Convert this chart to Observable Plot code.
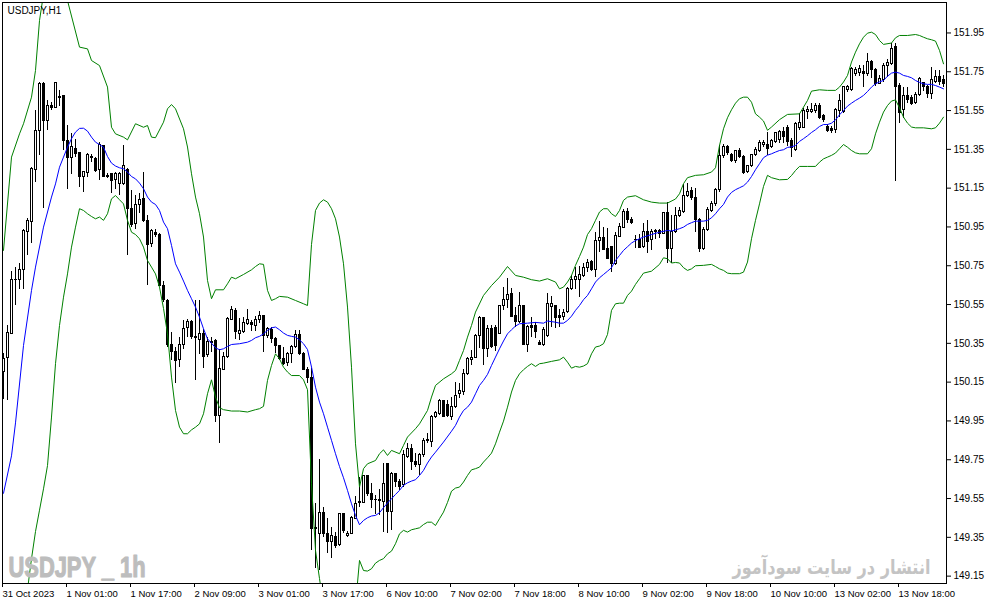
<!DOCTYPE html>
<html>
<head>
<meta charset="utf-8">
<script src="https://cdn.jsdelivr.net/npm/d3@7"></script>
<script src="https://cdn.jsdelivr.net/npm/@observablehq/plot@0.6"></script>
<style>
  body { margin: 0; background: white; }
  #chart svg { display: block; }
</style>
</head>
<body>
<div id="chart"></div>
<script>
// velas H1, una por barra (indice 0..235)
const open = [
  150.200,150.275,150.400,150.678,150.674,150.729,150.923,150.975,151.241,151.447,
  151.688,151.495,151.571,151.564,151.619,151.623,151.392,151.306,151.353,151.331,
  151.207,151.228,151.313,151.301,151.241,151.367,151.212,151.221,151.190,151.172,
  151.172,151.241,151.044,150.963,151.061,151.092,150.980,150.860,150.918,150.906,
  150.648,150.568,150.339,150.305,150.265,150.344,150.430,150.459,150.382,150.368,
  150.396,150.288,150.356,150.361,149.973,150.214,150.279,150.471,150.519,150.399,
  150.408,150.451,150.454,150.437,150.468,150.489,150.386,150.420,150.374,150.334,
  150.270,150.248,150.293,150.331,150.391,150.296,150.214,150.173,149.394,149.368,
  149.475,149.368,149.325,149.351,149.308,149.468,149.355,149.368,149.446,149.528,
  149.526,149.664,149.575,149.544,149.540,149.532,149.726,149.480,149.674,149.635,
  149.618,149.764,149.807,149.738,149.721,149.772,149.846,149.841,149.970,149.987,
  150.052,150.030,149.970,150.021,150.087,150.099,150.190,150.262,150.276,150.386,
  150.482,150.322,150.425,150.430,150.399,150.540,150.571,150.602,150.489,150.460,
  150.540,150.344,150.437,150.437,150.351,150.339,150.386,150.537,150.540,150.489,
  150.485,150.511,150.631,150.674,150.674,150.695,150.740,150.769,150.729,150.880,
  150.894,150.837,150.846,150.760,150.898,150.946,151.027,150.987,150.884,150.884,
  150.846,150.923,150.881,150.929,150.929,150.915,151.023,150.838,150.923,151.009,
  151.027,151.107,151.135,151.100,150.987,150.838,150.935,151.032,151.066,151.142,
  151.314,151.362,151.319,151.289,151.339,151.310,151.233,151.262,151.319,151.341,
  151.370,151.370,151.362,151.387,151.396,151.439,151.461,151.392,151.348,151.461,
  151.461,151.544,151.542,151.547,151.576,151.521,151.465,151.456,151.451,151.547,
  151.542,151.657,151.657,151.740,151.743,151.748,151.740,151.800,151.760,151.688,
  151.709,151.782,151.788,151.877,151.679,151.554,151.623,151.616,151.588,151.628,
  151.691,151.671,151.636,151.697,151.722,151.705
]
const high = [
  150.300,150.442,150.722,150.743,150.760,150.935,150.992,151.258,151.550,151.695,
  151.695,151.602,151.593,151.696,151.653,151.628,151.473,151.434,151.399,151.336,
  151.238,151.327,151.324,151.310,151.387,151.370,151.224,151.227,151.233,151.233,
  151.370,151.250,151.138,151.112,151.121,151.233,151.009,150.935,150.935,150.915,
  150.671,150.575,150.408,150.331,150.382,150.468,150.471,150.468,150.571,150.571,
  150.420,150.379,150.379,150.368,150.317,150.305,150.485,150.540,150.528,150.477,
  150.485,150.523,150.468,150.489,150.516,150.494,150.434,150.430,150.382,150.339,
  150.331,150.305,150.339,150.417,150.417,150.305,150.224,150.219,149.523,149.750,
  149.506,149.446,149.403,149.377,149.475,149.475,149.382,149.458,149.561,149.657,
  149.669,149.669,149.626,149.566,149.595,149.729,149.729,149.686,149.678,149.647,
  149.798,149.832,149.829,149.781,149.781,149.858,149.887,149.978,150.001,150.059,
  150.056,150.056,150.073,150.150,150.142,150.214,150.276,150.313,150.396,150.489,
  150.485,150.442,150.442,150.442,150.545,150.636,150.683,150.631,150.537,150.614,
  150.545,150.442,150.485,150.460,150.365,150.434,150.609,150.592,150.545,150.523,
  150.523,150.640,150.700,150.740,150.746,150.764,150.781,150.777,150.923,150.980,
  150.949,150.941,150.850,150.923,150.970,151.039,151.044,150.997,150.906,150.911,
  150.966,150.984,150.935,150.939,150.935,151.027,151.078,151.009,151.052,151.049,
  151.169,151.173,151.152,151.147,150.992,150.949,151.052,151.083,151.147,151.370,
  151.375,151.370,151.327,151.344,151.353,151.319,151.267,151.324,151.362,151.396,
  151.396,151.439,151.399,151.439,151.448,151.465,151.473,151.404,151.490,151.533,
  151.559,151.571,151.585,151.585,151.585,151.530,151.478,151.468,151.559,151.633,
  151.674,151.679,151.774,151.774,151.782,151.782,151.843,151.808,151.765,151.731,
  151.791,151.812,151.894,151.898,151.688,151.671,151.671,151.628,151.645,151.719,
  151.697,151.679,151.774,151.757,151.757,151.731
]
const low = [
  150.060,150.055,150.400,150.545,150.626,150.626,150.803,150.867,151.181,151.319,
  151.044,151.447,151.550,151.564,151.571,151.344,151.141,151.221,151.310,151.152,
  151.130,151.207,151.284,151.233,151.190,151.203,151.198,151.121,151.141,151.112,
  151.164,150.803,150.949,150.935,151.018,150.975,150.648,150.843,150.894,150.643,
  150.562,150.331,150.262,150.142,150.224,150.317,150.379,150.368,150.159,150.293,
  150.219,150.279,150.305,149.944,149.836,150.210,150.270,150.468,150.368,150.365,
  150.399,150.442,150.413,150.413,150.451,150.305,150.374,150.348,150.296,150.262,
  150.236,150.231,150.248,150.322,150.288,150.210,150.142,149.282,149.188,149.179,
  149.351,149.265,149.239,149.291,149.303,149.368,149.351,149.365,149.441,149.506,
  149.523,149.561,149.497,149.468,149.463,149.377,149.372,149.386,149.609,149.592,
  149.609,149.755,149.692,149.709,149.669,149.764,149.832,149.815,149.961,149.978,
  149.966,149.970,149.952,150.013,150.064,150.081,150.185,150.236,150.270,150.322,
  150.236,150.279,150.322,150.310,150.396,150.520,150.528,150.482,150.434,150.451,
  150.339,150.305,150.382,150.374,150.337,150.334,150.382,150.434,150.425,150.434,
  150.468,150.506,150.623,150.626,150.588,150.691,150.717,150.722,150.691,150.820,
  150.829,150.781,150.717,150.752,150.894,150.941,150.966,150.963,150.838,150.838,
  150.838,150.812,150.829,150.884,150.889,150.911,150.760,150.760,150.915,151.001,
  151.018,151.100,151.087,150.923,150.820,150.829,150.929,151.027,151.056,151.130,
  151.302,151.319,151.284,151.276,151.302,151.221,151.224,151.255,151.314,151.336,
  151.362,151.319,151.353,151.379,151.382,151.379,151.365,151.310,151.341,151.447,
  151.456,151.502,151.533,151.537,151.502,151.490,151.439,151.430,151.430,151.516,
  151.537,151.645,151.650,151.726,151.726,151.671,151.726,151.714,151.674,151.685,
  151.697,151.722,151.782,151.186,151.482,151.508,151.585,151.576,151.581,151.623,
  151.650,151.611,151.606,151.688,151.679,151.671
]
const close = [
  150.270,150.403,150.678,150.674,150.729,150.927,150.980,151.250,151.447,151.688,
  151.495,151.576,151.564,151.693,151.616,151.392,151.306,151.361,151.327,151.207,
  151.233,151.319,151.306,151.238,151.370,151.207,151.209,151.186,151.221,151.224,
  151.262,151.044,150.958,151.061,151.090,150.980,150.855,150.927,150.911,150.648,
  150.571,150.339,150.305,150.258,150.344,150.425,150.459,150.382,150.375,150.396,
  150.282,150.356,150.351,149.973,150.219,150.282,150.476,150.523,150.408,150.413,
  150.454,150.471,150.447,150.468,150.489,150.386,150.425,150.374,150.334,150.270,
  150.245,150.296,150.331,150.391,150.296,150.214,150.173,149.394,149.400,149.475,
  149.368,149.325,149.355,149.303,149.468,149.382,149.368,149.451,149.523,149.532,
  149.664,149.571,149.544,149.540,149.537,149.626,149.480,149.674,149.635,149.609,
  149.772,149.807,149.738,149.721,149.772,149.849,149.853,149.970,149.990,150.052,
  149.970,149.978,150.021,150.081,150.104,150.190,150.267,150.276,150.386,150.482,
  150.322,150.425,150.331,150.334,150.540,150.571,150.597,150.485,150.460,150.545,
  150.344,150.434,150.430,150.408,150.341,150.417,150.551,150.551,150.482,150.482,
  150.506,150.631,150.678,150.691,150.700,150.740,150.764,150.729,150.880,150.894,
  150.832,150.786,150.760,150.901,150.949,151.027,150.987,150.970,150.881,150.843,
  150.923,150.872,150.923,150.923,150.915,151.023,150.838,150.923,151.009,151.030,
  151.112,151.130,151.100,150.987,150.838,150.935,151.035,151.070,151.142,151.314,
  151.362,151.331,151.289,151.339,151.310,151.228,151.262,151.319,151.345,151.382,
  151.382,151.353,151.393,151.434,151.439,151.413,151.387,151.358,151.482,151.485,
  151.547,151.551,151.554,151.576,151.513,151.502,151.447,151.447,151.554,151.599,
  151.671,151.671,151.765,151.760,151.765,151.740,151.800,151.757,151.688,151.714,
  151.782,151.794,151.868,151.671,151.537,151.623,151.602,151.585,151.628,151.714,
  151.671,151.636,151.705,151.722,151.697,151.685
]

// Bollinger (20): [barra, precio]
const upperBand = [
  [0,150.829],[2,151.310],[4,151.430],[5,151.482],[7,151.619],[8,151.757],[9,152.014],[10,152.150],[13,152.300],[16,152.117],
  [19,151.877],[21,151.868],[22,151.808],[24,151.782],[26,151.671],[27,151.464],[28,151.430],[30,151.413],[31,151.399],[33,151.482],
  [35,151.464],[36,151.473],[37,151.413],[38,151.410],[40,151.490],[41,151.559],[42,151.581],[43,151.559],[45,151.456],[46,151.362],
  [47,151.224],[48,151.104],[49,151.018],[50,150.898],[51,150.674],[52,150.580],[53,150.626],[55,150.626],[56,150.657],[57,150.691],
  [58,150.683],[60,150.705],[62,150.729],[63,150.746],[64,150.760],[65,150.757],[66,150.623],[67,150.571],[68,150.580],[69,150.592],
  [71,150.588],[73,150.571],[75,150.554],[76,150.545],[77,150.860],[78,151.035],[79,151.073],[80,151.090],[81,151.078],[82,151.044],
  [83,150.992],[84,150.898],[85,150.760],[86,150.537],[87,150.227],[88,149.832],[89,149.609],[90,149.704],[91,149.729],[93,149.746],
  [94,149.781],[95,149.801],[96,149.772],[97,149.798],[99,149.781],[100,149.824],[101,149.867],[103,149.910],[104,149.935],[106,150.004],
  [107,150.073],[108,150.133],[110,150.167],[112,150.193],[113,150.210],[114,150.262],[115,150.313],[116,150.382],[117,150.442],[118,150.511],
  [120,150.597],[122,150.648],[124,150.691],[126,150.746],[128,150.700],[130,150.691],[132,150.678],[134,150.671],[136,150.683],[138,150.666],
  [139,150.631],[140,150.640],[141,150.666],[142,150.700],[143,150.752],[144,150.798],[145,150.846],[146,150.911],[147,150.941],[148,150.984],
  [149,151.027],[150,151.044],[151,151.044],[152,151.018],[153,151.004],[154,151.035],[155,151.087],[156,151.104],[158,151.111],[160,151.090],
  [162,151.078],[164,151.073],[166,151.073],[168,151.094],[169,151.121],[170,151.173],[171,151.204],[173,151.216],[175,151.219],[177,151.233],
  [178,151.255],[179,151.370],[180,151.456],[181,151.513],[182,151.554],[183,151.588],[184,151.611],[185,151.619],[186,151.619],[187,151.593],
  [188,151.533],[189,151.516],[190,151.496],[191,151.448],[192,151.465],[194,151.503],[196,151.530],[199,151.533],[201,151.602],[202,151.650],
  [204,151.657],[206,151.654],[208,151.654],[209,151.671],[210,151.697],[211,151.731],[212,151.800],[213,151.851],[214,151.894],[215,151.928],
  [216,151.949],[217,151.954],[218,151.942],[219,151.911],[220,151.891],[222,151.898],[223,151.925],[224,151.937],[226,151.937],[228,151.942],
  [229,151.937],[230,151.928],[231,151.920],[232,151.915],[233,151.908],[234,151.860],[235,151.791]
]
const middleBand = [
  [0,149.577],[2,149.770],[3,149.940],[5,150.339],[7,150.623],[8,150.743],[10,150.949],[12,151.104],[13,151.172],[14,151.258],
  [15,151.310],[16,151.361],[17,151.405],[18,151.439],[19,151.458],[20,151.459],[21,151.444],[22,151.413],[23,151.387],[24,151.375],
  [25,151.361],[26,151.313],[27,151.279],[28,151.264],[29,151.255],[30,151.250],[31,151.233],[32,151.210],[33,151.198],[34,151.176],
  [35,151.147],[36,151.104],[37,151.078],[38,151.066],[39,151.035],[40,150.975],[41,150.941],[42,150.855],[43,150.760],[44,150.717],
  [45,150.671],[46,150.623],[47,150.580],[48,150.537],[49,150.485],[50,150.425],[51,150.373],[52,150.351],[53,150.327],[54,150.317],
  [55,150.322],[56,150.334],[57,150.344],[59,150.348],[61,150.356],[62,150.365],[63,150.379],[64,150.386],[65,150.399],[66,150.417],
  [67,150.430],[68,150.434],[69,150.420],[70,150.403],[71,150.391],[72,150.386],[73,150.382],[74,150.368],[75,150.348],[76,150.318],
  [77,150.228],[78,150.124],[79,150.047],[80,149.987],[81,149.918],[82,149.850],[83,149.781],[84,149.715],[85,149.657],[86,149.592],
  [87,149.523],[88,149.463],[89,149.415],[90,149.437],[91,149.451],[92,149.460],[93,149.463],[94,149.477],[95,149.503],[96,149.527],
  [97,149.549],[98,149.571],[99,149.592],[100,149.618],[101,149.631],[102,149.640],[103,149.647],[104,149.669],[105,149.695],[106,149.733],
  [107,149.764],[108,149.789],[110,149.841],[112,149.897],[113,149.927],[114,149.970],[115,150.004],[116,150.021],[117,150.047],[118,150.090],
  [119,150.133],[120,150.159],[121,150.190],[122,150.236],[123,150.279],[124,150.322],[125,150.362],[126,150.399],[127,150.420],[128,150.439],
  [129,150.451],[131,150.454],[133,150.458],[135,150.454],[136,150.465],[138,150.459],[139,150.454],[140,150.454],[141,150.468],[142,150.490],
  [143,150.520],[144,150.545],[145,150.575],[146,150.597],[147,150.631],[148,150.666],[149,150.688],[150,150.705],[151,150.722],[152,150.740],
  [153,150.777],[154,150.803],[155,150.829],[156,150.848],[157,150.867],[158,150.880],[160,150.898],[162,150.911],[164,150.923],[166,150.932],
  [167,150.929],[169,150.941],[170,150.949],[171,150.963],[172,150.972],[173,150.980],[175,150.980],[176,150.984],[177,150.997],[178,151.018],
  [179,151.044],[180,151.066],[181,151.104],[182,151.128],[183,151.142],[184,151.152],[185,151.162],[186,151.181],[187,151.210],[188,151.245],
  [189,151.276],[190,151.307],[191,151.320],[192,151.327],[193,151.336],[194,151.344],[195,151.348],[196,151.360],[197,151.363],[198,151.370],
  [199,151.391],[200,151.405],[201,151.420],[202,151.437],[203,151.451],[204,151.468],[205,151.478],[206,151.478],[207,151.485],[208,151.502],
  [209,151.528],[210,151.550],[211,151.573],[212,151.588],[213,151.602],[214,151.614],[215,151.628],[216,151.648],[217,151.671],[218,151.688],
  [219,151.698],[220,151.705],[221,151.727],[222,151.743],[223,151.748],[224,151.743],[225,151.731],[226,151.726],[227,151.719],[228,151.705],
  [229,151.695],[230,151.688],[231,151.685],[232,151.685],[233,151.679],[234,151.671],[235,151.662]
]
const lowerBand = [
  [0,148.300],[3,148.700],[6,149.080],[7,149.240],[8,149.380],[9,149.490],[10,149.600],[11,149.720],[12,149.970],[13,150.245],
  [14,150.442],[15,150.588],[16,150.708],[17,150.846],[18,150.949],[19,151.044],[20,151.035],[21,151.018],[22,151.004],[23,150.992],
  [24,151.001],[25,150.984],[26,151.018],[27,151.095],[28,151.112],[29,151.090],[30,151.069],[31,150.984],[32,150.923],[33,150.911],
  [34,150.889],[35,150.846],[36,150.777],[37,150.743],[38,150.708],[39,150.640],[40,150.530],[41,150.399],[42,150.176],[43,150.004],
  [44,149.918],[45,149.884],[46,149.884],[47,149.904],[48,149.918],[49,149.935],[50,149.987],[51,150.090],[52,150.162],[53,150.073],
  [54,150.018],[55,150.008],[57,150.001],[59,150.001],[61,149.996],[63,150.008],[64,150.013],[65,150.025],[66,150.159],[67,150.236],
  [68,150.296],[69,150.270],[70,150.227],[71,150.202],[72,150.184],[74,150.184],[75,150.162],[76,150.111],[77,149.626],[78,149.283],
  [79,149.137],[80,149.000],[82,148.850],[84,148.800],[86,148.850],[88,149.000],[89,149.231],[90,149.179],[91,149.176],[92,149.188],
  [93,149.217],[94,149.231],[95,149.240],[96,149.265],[97,149.279],[98,149.317],[99,149.368],[100,149.386],[101,149.377],[102,149.389],
  [103,149.394],[104,149.399],[105,149.416],[106,149.428],[107,149.428],[108,149.411],[109,149.446],[110,149.480],[111,149.530],[112,149.588],
  [113,149.604],[114,149.609],[115,149.635],[116,149.669],[117,149.698],[118,149.704],[119,149.712],[120,149.738],[121,149.760],[122,149.784],
  [123,149.832],[124,149.892],[125,149.949],[126,150.021],[127,150.099],[128,150.159],[129,150.193],[130,150.214],[131,150.231],[132,150.245],
  [133,150.231],[134,150.245],[135,150.248],[137,150.257],[139,150.265],[140,150.279],[141,150.253],[142,150.222],[143,150.231],[144,150.227],
  [145,150.233],[146,150.245],[147,150.296],[148,150.331],[149,150.336],[150,150.348],[151,150.396],[152,150.520],[153,150.554],[154,150.557],
  [155,150.557],[156,150.597],[157,150.619],[158,150.654],[159,150.683],[160,150.712],[162,150.722],[164,150.757],[165,150.791],[166,150.786],
  [167,150.764],[168,150.767],[169,150.764],[170,150.740],[171,150.726],[172,150.734],[173,150.750],[175,150.752],[177,150.757],[178,150.746],
  [179,150.734],[180,150.726],[181,150.712],[182,150.709],[184,150.709],[185,150.717],[186,150.769],[187,150.889],[188,150.984],[189,151.069],
  [190,151.159],[191,151.216],[192,151.204],[194,151.193],[196,151.195],[197,151.215],[198,151.241],[199,151.262],[201,151.262],[203,151.262],
  [204,151.284],[205,151.301],[206,151.310],[207,151.319],[208,151.331],[209,151.353],[210,151.375],[211,151.361],[212,151.344],[213,151.332],
  [214,151.327],[216,151.327],[217,151.353],[218,151.430],[219,151.490],[220,151.542],[221,151.576],[222,151.599],[223,151.605],[224,151.564],
  [225,151.516],[226,151.485],[227,151.465],[228,151.461],[230,151.461],[232,151.456],[233,151.461],[234,151.485],[235,151.516]
]

// ejes
const priceTicks = [149.15,149.35,149.55,149.75,149.95,150.15,150.35,150.55,150.75,150.95,151.15,151.35,151.55,151.75,151.95]
const timeTickBars = [0,16,32,48,64,80,96,112,128,144,160,176,192,208,224]
const timeTickLabels = ["31 Oct 2023","1 Nov 01:00","1 Nov 17:00","2 Nov 09:00","3 Nov 01:00","3 Nov 17:00","6 Nov 10:00",
  "7 Nov 02:00","7 Nov 18:00","8 Nov 10:00","9 Nov 02:00","9 Nov 18:00","10 Nov 10:00","13 Nov 02:00","13 Nov 18:00"]

const title = "USDJPY,H1"
const watermark = "USDJPY _ 1h"
const siteNote = "انتشار در سایت سودآموز"

// tabla de velas
const candles = open.map((o, i) => ({i, open: o, high: high[i], low: low[i], close: close[i]}))
const labelOf = new Map(timeTickBars.map((b, k) => [b, timeTickLabels[k]]))

const font = "Liberation Sans, Arial, sans-serif"

let chart = Plot.plot({
  width: 987,
  height: 605,
  marginLeft: 2,
  marginRight: 41,
  marginTop: 2,
  marginBottom: 22,
  style: {background: "white", color: "black", fontFamily: font},
  x: {type: "linear", domain: [-0.25, 235.75], axis: null},
  y: {domain: [149.112, 152.107], axis: null},
  marks: [
    // mechas
    Plot.ruleX(candles, {x: "i", y1: "low", y2: "high", stroke: "black", strokeWidth: 1, shapeRendering: "crispEdges", clip: true}),
    // cuerpos
    Plot.rect(candles, {
      x1: d => d.i - 0.25,
      x2: d => d.i + 0.25,
      y1: "open",
      y2: "close",
      fill: d => d.close >= d.open ? "white" : "black",
      stroke: "black",
      strokeWidth: 1,
      shapeRendering: "crispEdges",
      clip: true
    }),
    Plot.line(upperBand, {x: d => d[0], y: d => d[1], stroke: "#008000", strokeWidth: 1, clip: true}),
    Plot.line(lowerBand, {x: d => d[0], y: d => d[1], stroke: "#008000", strokeWidth: 1, clip: true}),
    Plot.line(middleBand, {x: d => d[0], y: d => d[1], stroke: "#0000ff", strokeWidth: 1, clip: true}),

    Plot.text([watermark], {
      frameAnchor: "bottom-left", dx: 6, dy: -7, lineAnchor: "bottom", textAnchor: "start",
      fontSize: 30, fontWeight: "bold", fill: "#bdbdbd", stroke: "#bdbdbd", strokeWidth: 1.2,
      fontFamily: "Liberation Sans Narrow, Liberation Sans, sans-serif"
    }),
    Plot.text([siteNote], {
      frameAnchor: "bottom-right", dx: -16, dy: -10, lineAnchor: "bottom", textAnchor: "end",
      fontSize: 20, fontWeight: "bold", fill: "#c4c4c4", fontFamily: "DejaVu Sans, sans-serif"
    }),
    Plot.text([title], {
      frameAnchor: "top-left", dx: 5, dy: 4, lineAnchor: "top", textAnchor: "start",
      fontSize: 10, fill: "black"
    }),

    Plot.axisY(priceTicks, {
      anchor: "right", tickSize: 4, tickPadding: 3, label: null,
      tickFormat: d => d.toFixed(2), fontSize: 10
    }),
    Plot.axisX(timeTickBars, {
      anchor: "bottom", tickSize: 4, tickPadding: 3, label: null,
      tickFormat: d => labelOf.get(d), textAnchor: "start", dx: -1, fontSize: 9.5
    }),
    Plot.frame({stroke: "black", strokeWidth: 1})
  ]
})

// ajustar el ancho de los textos de fondo
d3.select(chart).selectAll("text")
  .filter(function () { return this.textContent === watermark })
  .attr("textLength", 137)
  .attr("lengthAdjust", "spacingAndGlyphs")
d3.select(chart).selectAll("text")
  .filter(function () { return this.textContent === siteNote })
  .attr("textLength", 198)
  .attr("lengthAdjust", "spacingAndGlyphs")

d3.select('#chart').append(() => chart)
</script>
</body>
</html>
